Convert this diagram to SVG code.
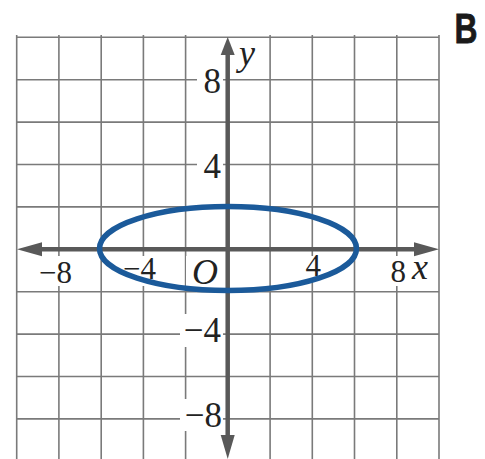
<svg xmlns="http://www.w3.org/2000/svg" width="485" height="459" viewBox="0 0 485 459">
<style>
.grid line{stroke:#7a7a7a;stroke-width:1.6}
.bg{fill:#fff}
.axis{stroke:#595959;stroke-width:4.5;fill:none}
.head{fill:#595959}
.num{font-family:"Liberation Serif",serif;fill:#222}
.ylab{font-size:35px}
.xlab{font-size:31px}
.var{font-family:"Liberation Serif",serif;font-style:italic;font-size:36px;fill:#222}
.curve{fill:none;stroke:#1b5a9a;stroke-width:5.5}
</style>
<rect width="485" height="459" fill="#fff"/>
<g class="grid" id="grid">
<line x1="16.7" y1="35" x2="16.7" y2="459"/>
<line x1="58.9" y1="35" x2="58.9" y2="459"/>
<line x1="101.2" y1="35" x2="101.2" y2="459"/>
<line x1="143.4" y1="35" x2="143.4" y2="459"/>
<line x1="185.6" y1="35" x2="185.6" y2="459"/>
<line x1="270.1" y1="35" x2="270.1" y2="459"/>
<line x1="312.3" y1="35" x2="312.3" y2="459"/>
<line x1="354.5" y1="35" x2="354.5" y2="459"/>
<line x1="396.8" y1="35" x2="396.8" y2="459"/>
<line x1="439" y1="35" x2="439" y2="459"/>
<line x1="16.7" y1="37.3" x2="439" y2="37.3"/>
<line x1="16.7" y1="79.7" x2="439" y2="79.7"/>
<line x1="16.7" y1="122.1" x2="439" y2="122.1"/>
<line x1="16.7" y1="164.5" x2="439" y2="164.5"/>
<line x1="16.7" y1="206.9" x2="439" y2="206.9"/>
<line x1="16.7" y1="291.7" x2="439" y2="291.7"/>
<line x1="16.7" y1="334.1" x2="439" y2="334.1"/>
<line x1="16.7" y1="376.5" x2="439" y2="376.5"/>
<line x1="16.7" y1="418.9" x2="439" y2="418.9"/>
</g>
<g id="label-bgs">
<rect class="bg" x="197" y="66" width="26" height="30"/>
<rect class="bg" x="197" y="150" width="26" height="31"/>
<rect class="bg" x="180" y="314" width="43" height="33"/>
<rect class="bg" x="180" y="399" width="43" height="32"/>
<rect class="bg" x="28" y="256" width="46" height="30"/>
<rect class="bg" x="112" y="256" width="46" height="30"/>
<rect class="bg" x="186" y="256" width="37" height="32"/>
<rect class="bg" x="300" y="256" width="24" height="26"/>
<rect class="bg" x="385" y="256" width="50" height="30"/>
</g>
<g id="labels">
<text class="num ylab" x="221" y="93" text-anchor="end">8</text>
<text class="num ylab" x="221" y="178" text-anchor="end">4</text>
<text class="num ylab" x="221" y="342" text-anchor="end">−4</text>
<text class="num ylab" x="222" y="427" text-anchor="end">−8</text>
<text class="num xlab" x="72" y="283" text-anchor="end">−8</text>
<text class="num xlab" x="156" y="279" text-anchor="end">−4</text>
<text class="num xlab" x="321" y="276" text-anchor="end">4</text>
<text class="num xlab" x="406" y="282" text-anchor="end">8</text>
<text class="var" x="192" y="284">O</text>
<text class="var" x="412" y="279">x</text>
<text class="var" x="239" y="65">y</text>
</g>
<g id="connectors">
<line class="axis" x1="227.7" y1="52" x2="227.7" y2="438"/>
<polygon class="head" points="227.7,37 220.7,55 234.7,55"/>
<polygon class="head" points="227.7,459 220.7,435 234.7,435"/>
<line class="axis" x1="40" y1="249.3" x2="418" y2="249.3"/>
<polygon class="head" points="17,249.3 42,242.3 42,256.3"/>
<polygon class="head" points="439,249.3 414,242.3 414,256.3"/>
</g>
<g id="ellipse">
<ellipse class="curve" cx="228" cy="248.5" rx="128.5" ry="42"/>
</g>
<text x="466" y="43" text-anchor="middle" font-family="Liberation Sans, Arial, sans-serif" font-weight="bold" font-size="42" fill="#1a1a1a" stroke="#1a1a1a" stroke-width="0.8" textLength="23" lengthAdjust="spacingAndGlyphs">B</text>
</svg>
